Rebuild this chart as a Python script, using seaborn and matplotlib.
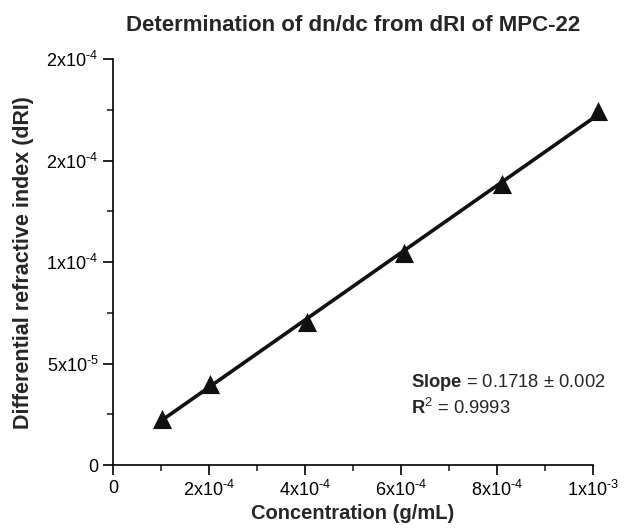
import numpy as np
import pandas as pd
import seaborn as sns
import matplotlib.pyplot as plt
from matplotlib.ticker import MultipleLocator, FixedLocator, FixedFormatter

# Data
conc = [1.02e-4, 2.02e-4, 4.04e-4, 6.06e-4, 8.10e-4, 1.010e-3]
dri = [2.29e-5, 3.99e-5, 7.04e-5, 1.044e-4, 1.384e-4, 1.744e-4]

x_ticks = [0, 2e-4, 4e-4, 6e-4, 8e-4, 1e-3]
x_labels = ["0", "2x10$^{\u20104}$", "4x10$^{\u20104}$", "6x10$^{\u20104}$", "8x10$^{\u20104}$", "1x10$^{\u20103}$"]
y_ticks = [0, 5e-5, 1e-4, 1.5e-4, 2e-4]
y_labels = ["0", "5x10$^{\u20105}$", "1x10$^{\u20104}$", "2x10$^{\u20104}$", "2x10$^{\u20104}$"]

df = pd.DataFrame({"conc": conc, "dri": dri})

sns.set_style("ticks")
plt.rcParams["font.family"] = ["Liberation Sans", "DejaVu Sans"]
plt.rcParams["mathtext.fontset"] = "custom"
plt.rcParams["mathtext.rm"] = "Liberation Sans"
plt.rcParams["mathtext.it"] = "Liberation Sans:italic"
plt.rcParams["mathtext.bf"] = "Liberation Sans:bold"

fig = plt.figure(figsize=(6.44, 5.28), dpi=100)
ax = fig.add_axes([0.1755, 0.1193, 0.7453, 0.7687])

sns.regplot(data=df, x="conc", y="dri", ax=ax, ci=None, marker="^", color="#111111",
            scatter_kws={"s": 190, "zorder": 3, "linewidths": 0, "alpha": 1, "clip_on": False},
            line_kws={"lw": 2.6, "zorder": 2, "clip_on": False})

ax.set_xlim(0, 1e-3)
ax.set_ylim(0, 2e-4)
ax.xaxis.set_major_locator(FixedLocator(x_ticks))
ax.xaxis.set_major_formatter(FixedFormatter(x_labels))
ax.xaxis.set_minor_locator(MultipleLocator(1e-4))
ax.yaxis.set_major_locator(FixedLocator(y_ticks))
ax.yaxis.set_major_formatter(FixedFormatter(y_labels))
ax.yaxis.set_minor_locator(MultipleLocator(2.5e-5))

ax.tick_params(which="major", direction="out", length=7, width=1.2, labelsize=13, colors="black")
ax.tick_params(which="minor", direction="out", length=4, width=1.2)
for s in ["top", "right"]:
    ax.spines[s].set_visible(False)
for s in ["left", "bottom"]:
    ax.spines[s].set_linewidth(1.2)
    ax.spines[s].set_color("black")

ax.set_xlabel("Concentration (g/mL)", fontsize=14.5, fontweight="bold", labelpad=3)
ax.set_ylabel("Differential refractive index (dRI)", fontsize=15.5, fontweight="bold", labelpad=9)
ax.set_title("Determination of dn/dc from dRI of MPC-22", fontsize=16, fontweight="bold", pad=20)

ax.text(0.62, 0.192, r"$\mathbf{Slope}$ = 0.1718 ± 0.002", transform=ax.transAxes, fontsize=13.2)
ax.text(0.62, 0.126, r"$\mathbf{R}^{2}$ = 0.9993", transform=ax.transAxes, fontsize=13.2)

plt.savefig("out.png", dpi=100)
